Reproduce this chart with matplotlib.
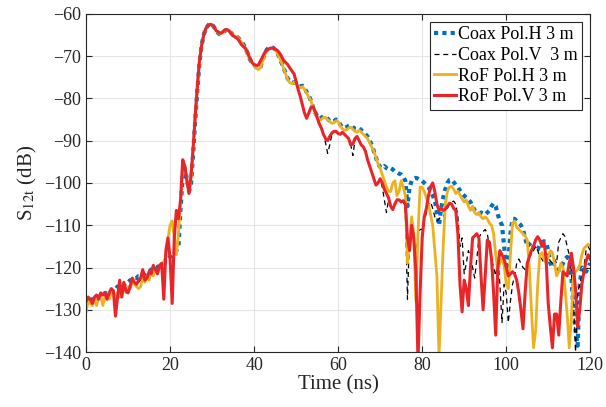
import numpy as np
import matplotlib
matplotlib.use('Agg')
import matplotlib.pyplot as plt

# time axis in ns, 0.5 ns steps
time_ns = np.arange(0, 120.5, 0.5)

coax_h = [
    -128.5, -128, -128.2, -127.5, -127.6, -127, -127.2, -126.5, -126.7, -126, -126.2, -125.5, -125.7, -125, -125.2, -124.5, -124.7, -124, -124.2, -123.5,
    -123.5, -123, -123, -122.5, -122.5, -122, -122, -121.5, -121.5, -121, -121, -120.5, -120.5, -120, -120, -119.5, -119.5, -119, -118.5, -118,
    -117.5, -117, -116.5, -116, -115, -106, -98.5, -96.5, -99, -102, -100, -93, -85, -78, -71.5, -67.5, -65, -63.5, -62.8, -62.3,
    -62.5, -63.2, -64, -64.6, -65, -64.6, -64, -63.8, -64, -64.5, -65, -65.3, -65.5, -66, -66.6, -67.3, -68.2, -69.5, -70.8, -71.5,
    -72, -72.6, -73, -72.6, -71, -69.6, -68.5, -68, -67.9, -68, -68.5, -69.2, -70.2, -71.5, -72.8, -74, -75.3, -76, -76.3, -76.2,
    -76.4, -77, -77.2, -77, -77.6, -78.5, -79.3, -80.5, -82, -83.3, -84.2, -84.8, -84.6, -84.2, -84.3, -84.8, -85.3, -85.6, -85.4, -85,
    -85.2, -86.2, -86.8, -87, -86.8, -86.5, -86.3, -86.8, -87.2, -87.3, -87, -87.5, -88, -88.5, -89, -90, -91, -92.5, -94, -95.5,
    -96.2, -96.5, -96, -96.5, -96.8, -96.5, -96.8, -97.3, -97.5, -97.8, -98, -98.5, -99.5, -105.5, -101, -99.5, -99, -98.8, -99, -99.3,
    -99.5, -100, -100.5, -101, -102, -103, -104, -107, -110, -106, -103.5, -101.5, -100, -99.3, -99.2, -99.8, -100.5, -101, -101.8, -102.5,
    -103, -103.5, -104, -104.5, -105.5, -106.5, -107, -107.2, -107, -107.2, -107.5, -107, -106.5, -105.5, -104.8, -105.5, -107.5, -109, -110, -115,
    -120.5, -118.5, -112, -108.5, -108.5, -109, -109.5, -110, -111, -113, -115, -114.5, -114, -115, -116, -115.8, -114.5, -114, -113.8, -114,
    -116, -119, -120, -119, -119.5, -120.5, -120.5, -119, -118, -117.5, -118, -122, -130, -135, -138.5, -124, -120, -120.5, -121, -120,
    -119,
]

coax_v = [
    -127.5, -127.5, -127.5, -128, -127, -126.5, -127, -126.5, -126.5, -126, -127, -126, -125.5, -125.5, -129, -126, -124, -126, -124, -125,
    -125.5, -124.5, -123, -123.5, -124, -123.5, -123, -121.5, -123, -122.5, -121.5, -121.5, -120, -120.5, -121, -120, -119.5, -124, -117.5, -114,
    -117.5, -125, -114, -107.5, -108.5, -104.5, -95.5, -96, -99.5, -102.5, -98.5, -92, -84, -77.5, -71.5, -67.8, -65.2, -63.6, -62.9, -62.5,
    -62.6, -63.2, -64, -64.3, -64.6, -64.3, -63.8, -63.7, -64, -64.6, -65.2, -65.5, -65.8, -66.5, -67.3, -67.8, -68.2, -69.3, -70.5, -71.5,
    -72, -72.2, -72.1, -71.2, -70.2, -69.2, -68.6, -68.3, -68.1, -68.1, -68.4, -68.6, -69.2, -70, -71, -71.5, -72, -72.8, -73.5, -74.2,
    -76, -78, -79.6, -81.5, -83.5, -84.8, -83.5, -82.2, -82, -83, -84.5, -86, -87, -88.5, -90.5, -93, -91, -88.5, -87.8, -87.8,
    -88.3, -88.5, -88, -88.5, -89, -89.5, -91, -93.5, -90, -89, -90, -91, -91.5, -92.5, -94.5, -96, -97.5, -99, -100.5, -100,
    -99, -101, -104, -107, -104, -105.5, -106.3, -105, -104, -104, -104.5, -104.2, -107, -127.5, -112, -108, -113, -118, -112, -111,
    -111, -109, -107, -105.5, -104.5, -106, -108, -109, -108.5, -108, -108, -107, -106, -105, -104.5, -104.3, -105, -108, -115, -113,
    -121.5, -119, -116, -117.5, -120, -122.5, -118, -113, -112, -111.5, -111, -112, -115, -118, -120, -122, -118, -124, -133, -124,
    -126, -133, -128, -124, -122, -119, -118, -119, -120, -120.5, -119, -117, -117, -116, -115, -116, -117.5, -118, -119, -118,
    -117.5, -118.5, -119, -118, -119, -114, -113, -112, -112.7, -115, -117, -121, -128, -140, -126, -124, -122, -120, -116, -115,
    -116,
]

rof_h = [
    -130.5, -128, -128.5, -129, -127.5, -129, -127, -126.5, -129, -127, -126.5, -127.5, -126, -125.5, -127.5, -126, -127, -125.5, -125, -126,
    -124.5, -125, -123.5, -124, -124.5, -125, -124.5, -122.5, -123.5, -122, -123, -121, -122, -120.5, -121, -120, -119.5, -118.5, -117.5, -113,
    -110, -109, -113, -117, -112, -104, -97, -96, -99, -102, -99, -92, -84, -77.5, -71, -67.5, -65, -63.5, -62.8, -62.4,
    -62.6, -63.3, -64, -64.5, -64.8, -64.5, -64, -63.8, -64, -64.5, -65, -65.3, -65.5, -66, -66.8, -67.5, -68.5, -69.8, -70.8, -71.5,
    -72.2, -72.8, -73.2, -72.8, -71.2, -69.8, -68.8, -68.3, -68.1, -68.2, -68.6, -69.3, -70.3, -71.5, -72.8, -74.2, -75.5, -76.3, -76.5, -76.2,
    -76.6, -77.2, -77.5, -77.2, -77.8, -78.8, -79.6, -80.5, -82, -83.5, -84.5, -85.2, -85, -84.5, -84.5, -85, -85.5, -85.9, -85.8, -85.3,
    -85.5, -86.5, -87.2, -87.5, -87.5, -87, -86.8, -87.3, -87.8, -88, -87.5, -88, -88.5, -89, -89.5, -90.5, -91.5, -92.5, -94, -95.5,
    -96.5, -98, -99.5, -101, -102, -102, -100, -99.5, -103, -102, -99.5, -101, -103, -119, -113, -108, -112, -128, -112, -101,
    -101, -102, -103.5, -105, -107.5, -110, -116, -122, -141, -128, -115, -105, -102, -101, -100.8, -101.5, -102.5, -102, -102.8, -103.8,
    -104.5, -104, -105.5, -106.5, -105.5, -107, -107.5, -107, -108, -108.5, -108, -108.5, -109.5, -110, -112, -117, -120.5, -119, -118, -119.5,
    -124, -125, -117, -109.5, -109, -110.5, -111, -111.5, -112, -112.5, -113.5, -120, -130, -139, -135, -124, -117, -116.5, -118, -119,
    -117.5, -116, -116.5, -119, -122, -121, -119, -120, -125, -131, -139, -132, -122, -121, -120.5, -119.5, -117, -115.5, -115, -114.5,
    -115,
]

rof_v = [
    -128, -127, -127.5, -128.5, -127, -126.5, -127.5, -126, -126.5, -126, -127.5, -126, -125, -125.5, -131.5, -127, -123, -127, -123.5, -125.5,
    -126, -124.5, -122.5, -123.5, -124, -123, -122.5, -120.5, -123, -122.5, -121, -121.5, -119.5, -120.5, -121.5, -119.5, -119, -127.5, -116, -113,
    -118, -128.5, -113, -106.5, -108.5, -104, -94.5, -96, -99.5, -102.5, -98, -91.5, -84, -77, -71, -67.5, -65, -63.5, -62.8, -62.5,
    -62.6, -63.2, -64, -64.3, -64.6, -64.3, -63.8, -63.7, -64, -64.6, -65.2, -65.5, -65.8, -66.5, -67.3, -67.8, -68.2, -69.3, -70.5, -71.5,
    -72, -72.2, -72.1, -71.2, -70.2, -69.2, -68.6, -68.3, -68.1, -68.1, -68.4, -68.6, -69.2, -70, -71, -71.5, -72, -72.8, -73.5, -74.2,
    -76, -78, -79.6, -81.5, -83.5, -84.7, -83.5, -82.2, -82, -83, -84.5, -86, -87, -88.5, -89.5, -90, -89, -88.2, -87.8, -87.8,
    -88.3, -88.5, -88, -88.5, -89, -89.5, -91, -90.8, -89.5, -89, -90, -91, -91.5, -92.5, -94.5, -96, -97.5, -99, -100.5, -100,
    -99, -100, -101.5, -102.5, -103.5, -105.5, -106.3, -105, -104, -104, -104.5, -104.2, -105, -113, -116, -110, -113, -121, -142, -126,
    -113, -108, -106, -103, -101, -100, -102, -105, -106.5, -106, -106.5, -106.2, -105.5, -104.8, -105, -106, -106.5, -112, -124, -130.5,
    -123, -125, -129, -120, -113, -112.5, -112, -113, -122, -130, -122, -113.5, -114, -118, -126, -136, -120, -116, -117, -118,
    -120, -122, -121.5, -121, -121.5, -123, -126, -130, -134.5, -126, -119, -117.5, -116, -115, -113.5, -112.7, -113.5, -115, -114, -118,
    -128.5, -134, -139, -131, -131, -136, -128, -121, -121.5, -122, -119, -116.6, -120, -125, -134, -130, -124, -121, -118.5, -117,
    -118,
]

labels = ['Coax Pol.H 3 m', 'Coax Pol.V  3 m', 'RoF Pol.H 3 m', 'RoF Pol.V 3 m']

plt.rcParams['font.family'] = ['Liberation Serif', 'DejaVu Serif']
plt.rcParams['mathtext.fontset'] = 'stix'

dark = '#262626'

fig = plt.figure(figsize=(6.06, 4.07), dpi=100)
ax = fig.add_axes([0.142, 0.135, 0.832, 0.831])

ax.plot(time_ns, coax_h, color='#0072BD', linewidth=3, linestyle=(0, (1, 1)), label=labels[0])
ax.plot(time_ns, coax_v, color='black', linewidth=0.9, linestyle=(0, (4, 3)), label=labels[1])
ax.plot(time_ns, rof_h, color='#EDB120', linewidth=2, label=labels[2])
ax.plot(time_ns, rof_v, color='#E8262A', linewidth=2.2, label=labels[3])

ax.set_xlim(0, 120)
ax.set_ylim(-140, -60)
ax.set_xticks(np.arange(0, 121, 20))
ax.set_yticks(np.arange(-140, -59, 10))
ax.grid(True, color='#e6e6e6', linewidth=0.8)
ax.set_axisbelow(True)
ax.tick_params(direction='in', top=True, right=True, labelsize=13, colors=dark, length=4)
for s in ax.spines.values():
    s.set_color(dark)
    s.set_linewidth(0.8)

ax.set_xlabel('Time (ns)', fontsize=15, color=dark, labelpad=1)
ax.set_ylabel('S$_{\\mathrm{12t}}$ (dB)', fontsize=15, color=dark, labelpad=4)

leg = ax.legend(loc='upper right', fontsize=13, handlelength=1.2, handletextpad=0.1,
                borderpad=0.25, labelspacing=0.2, fancybox=False, framealpha=1,
                borderaxespad=0.45)
leg.get_frame().set_edgecolor(dark)
leg.get_frame().set_linewidth(0.8)

fig.savefig('out.png', dpi=100)
